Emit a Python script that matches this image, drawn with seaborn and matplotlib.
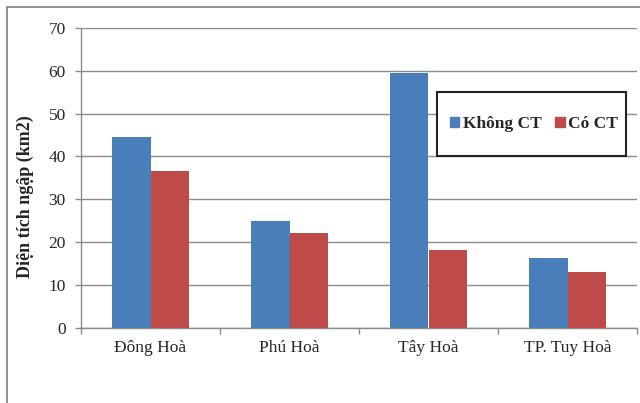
import matplotlib
matplotlib.use('Agg')
import matplotlib.pyplot as plt
import seaborn as sns
import pandas as pd
from matplotlib.patches import Rectangle
from matplotlib.lines import Line2D

# data
khu_vuc = ['Đông Hoà', 'Phú Hoà', 'Tây Hoà', 'TP. Tuy Hoà']
khong_ct = [44.6, 24.9, 59.4, 16.2]
co_ct = [36.7, 22.1, 18.2, 12.9]
ten_chuoi = ['Không CT', 'Có CT']
y_ticks = [0, 10, 20, 30, 40, 50, 60, 70]

df = pd.DataFrame({
    'khu_vuc': khu_vuc * 2,
    'dien_tich': khong_ct + co_ct,
    'kich_ban': [ten_chuoi[0]] * len(khu_vuc) + [ten_chuoi[1]] * len(khu_vuc),
})

sns.set_style('white')
plt.rcParams['font.family'] = ['Liberation Serif', 'DejaVu Serif']

mau = {'Không CT': '#4a7ebb', 'Có CT': '#be4b48'}
xam = '#8c8c8c'

fig = plt.figure(figsize=(6.4, 4.03), dpi=100)
ax = fig.add_axes([81/640, 1 - 327.7/403, (637 - 81)/640, (327.7 - 28)/403])

sns.barplot(data=df, x='khu_vuc', y='dien_tich', hue='kich_ban', palette=mau,
            width=0.56, saturation=1, ax=ax, legend=False, zorder=3,
            linewidth=0, edgecolor='none')

ax.set_ylim(0, 70)
ax.set_xlim(-0.5, len(khu_vuc) - 0.5)
ax.set_yticks(y_ticks)
ax.yaxis.grid(True, color=xam, linewidth=1, zorder=0)
ax.set_axisbelow(True)

for s in ['top', 'right']:
    ax.spines[s].set_visible(False)
for s in ['left', 'bottom']:
    ax.spines[s].set_color(xam)
    ax.spines[s].set_linewidth(1)

ax.tick_params(axis='y', which='major', length=4, width=1, color=xam, pad=7,
               labelsize=12.5, left=True)
ax.tick_params(axis='x', which='major', length=0, pad=9, labelsize=12.5)
ax.set_xticks([i - 0.5 for i in range(len(khu_vuc) + 1)], minor=True)
ax.tick_params(axis='x', which='minor', length=4, width=1, color=xam, bottom=True)

ax.set_xlabel('')
ax.set_ylabel('Diện tích ngập (km2)', fontsize=13, fontweight='bold', va='center')
ax.yaxis.set_label_coords(-0.101, 0.436)

# khung legend
fig.patches.append(Rectangle((437/640, 1 - 156/403), (626 - 437)/640, (156 - 92)/403,
                             transform=fig.transFigure, fill=True, facecolor='white',
                             edgecolor='#222222', linewidth=1.5, zorder=5))
handles = [Rectangle((0, 0), 1, 1, color=mau[t]) for t in ten_chuoi]
leg = fig.legend(handles, ten_chuoi, loc='center', ncol=2, frameon=False,
                 bbox_to_anchor=(534/640, 1 - 124/403),
                 prop={'weight': 'bold', 'size': 12.5},
                 handlelength=0.55, handleheight=0.55, handletextpad=0.2,
                 columnspacing=0.8)
leg.set_zorder(6)

# vien ngoai cua bieu do
fig.add_artist(Line2D([7/640, 1.0], [1 - 7/403, 1 - 7/403], transform=fig.transFigure,
                      color='#7f7f7f', linewidth=1.2))
fig.add_artist(Line2D([7/640, 7/640], [0, 1 - 7/403], transform=fig.transFigure,
                      color='#7f7f7f', linewidth=1.2))

fig.savefig('out.png', dpi=100)
